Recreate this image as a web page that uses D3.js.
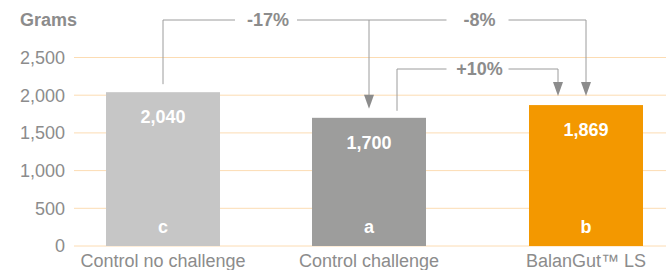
<!DOCTYPE html>
<meta charset="utf-8">
<style>
body { margin: 0; background: #fff; }
text { font-family: "Liberation Sans", Arial, sans-serif; font-size: 18px; }
.grid line { stroke: #fcdcb3; stroke-width: 1px; }
.tick-label { fill: #8c8c8c; }
.anno line, .anno path.ln { stroke: #9c9c9c; stroke-width: 1px; fill: none; }
.anno path.head { fill: #8c8c8c; }
</style>
<svg width="666" height="270"></svg>
<script src="https://d3js.org/d3.v7.min.js"></script>
<script>

var categories = ["Control no challenge", "Control challenge", "BalanGut\u2122 LS"];
var values = [2040, 1700, 1869];
var letters = ["c", "a", "b"];
var barColors = ["#c6c6c6", "#9d9d9c", "#f39800"];
var yTicks = [0, 500, 1000, 1500, 2000, 2500];
var comparisons = [
  {from: 0, to: 1, label: "-17%"},
  {from: 0, to: 2, label: "-8%"},
  {from: 1, to: 2, label: "+10%"}
];

var svg = d3.select("svg");
var width = 666;

var y = d3.scaleLinear().domain([0, 2500]).range([246, 57.5]);
var x = d3.scaleOrdinal().domain(categories).range([163, 369, 586]);
var barW = 114;

// gridlines
svg.append("g").attr("class", "grid")
  .selectAll("line").data(yTicks).enter().append("line")
  .attr("x1", 74).attr("x2", width)
  .attr("y1", function(d) { return y(d); })
  .attr("y2", function(d) { return y(d); });

// y labels
svg.append("g").selectAll("text").data(yTicks).enter().append("text")
  .attr("class", "tick-label")
  .attr("x", 65)
  .attr("y", function(d) { return y(d); })
  .attr("dy", "0.36em")
  .attr("text-anchor", "end")
  .text(function(d) { return d3.format(",")(d); });

svg.append("text")
  .attr("x", 20).attr("y", 26)
  .attr("fill", "#8c8c8c")
  .attr("font-weight", "bold")
  .text("Grams");

// bars
var bars = svg.append("g").selectAll("g").data(categories).enter().append("g");

bars.append("rect")
  .attr("x", function(d) { return x(d) - barW / 2; })
  .attr("width", barW)
  .attr("y", function(d, i) { return y(values[i]); })
  .attr("height", function(d, i) { return y(0) - y(values[i]); })
  .attr("fill", function(d, i) { return barColors[i]; });

bars.append("text")
  .attr("x", function(d) { return x(d); })
  .attr("y", function(d, i) { return y(values[i]) + 31; })
  .attr("text-anchor", "middle")
  .attr("fill", "#fff")
  .attr("font-weight", "bold")
  .text(function(d, i) { return d3.format(",")(values[i]); });

bars.append("text")
  .attr("x", function(d) { return x(d); })
  .attr("y", y(0) - 13)
  .attr("text-anchor", "middle")
  .attr("fill", "#fff")
  .attr("font-weight", "bold")
  .text(function(d, i) { return letters[i]; });

bars.append("text")
  .attr("class", "tick-label")
  .attr("x", function(d) { return x(d); })
  .attr("y", y(0) + 21)
  .attr("text-anchor", "middle")
  .text(function(d) { return d; });

// comparison brackets
var anno = svg.append("g").attr("class", "anno");
var gapHalf = 31;
var topLevel = 20, lowLevel = 69;

function arrow(xc, tipY) {
  anno.append("path").attr("class", "head")
    .attr("d", "M" + (xc - 5) + "," + (tipY - 14) + "L" + (xc + 5) + "," + (tipY - 14) + "L" + xc + "," + tipY + "Z");
}
function hline(x1, x2, yy) {
  anno.append("line").attr("x1", x1).attr("x2", x2).attr("y1", yy).attr("y2", yy);
}
function vline(xx, y1, y2) {
  anno.append("line").attr("x1", xx).attr("x2", xx).attr("y1", y1).attr("y2", y2);
}
function label(xx, yy, t) {
  anno.append("text").attr("x", xx).attr("y", yy).attr("dy", "0.35em")
    .attr("text-anchor", "middle").attr("fill", "#8c8c8c").attr("font-weight", "bold").text(t);
}

comparisons.forEach(function(c, k) {
  var fromX = x(categories[c.from]);
  var toX = x(categories[c.to]);
  var fromTop = y(values[c.from]);
  var toTop = y(values[c.to]);
  var level, sx, ex, mid;
  if (c.from === 0) {
    level = topLevel;
    // chained on the top line: segment starts at previous stop
    sx = c.to === 1 ? fromX : x(categories[c.to - 1]);
    ex = toX;
    if (c.to === 1) vline(fromX, fromTop - 8, level);
    vline(ex, level, toTop - 12);
    arrow(ex, toTop - 9);
  } else {
    level = lowLevel;
    sx = fromX + 28;
    ex = toX - 28;
    vline(sx, fromTop - 7, level);
    vline(ex, level, toTop - 12);
    arrow(ex, toTop - 9);
  }
  mid = (sx + ex) / 2;
  hline(sx, mid - gapHalf, level);
  hline(mid + gapHalf, ex, level);
  label(mid + 2, level, c.label);
});

</script>
